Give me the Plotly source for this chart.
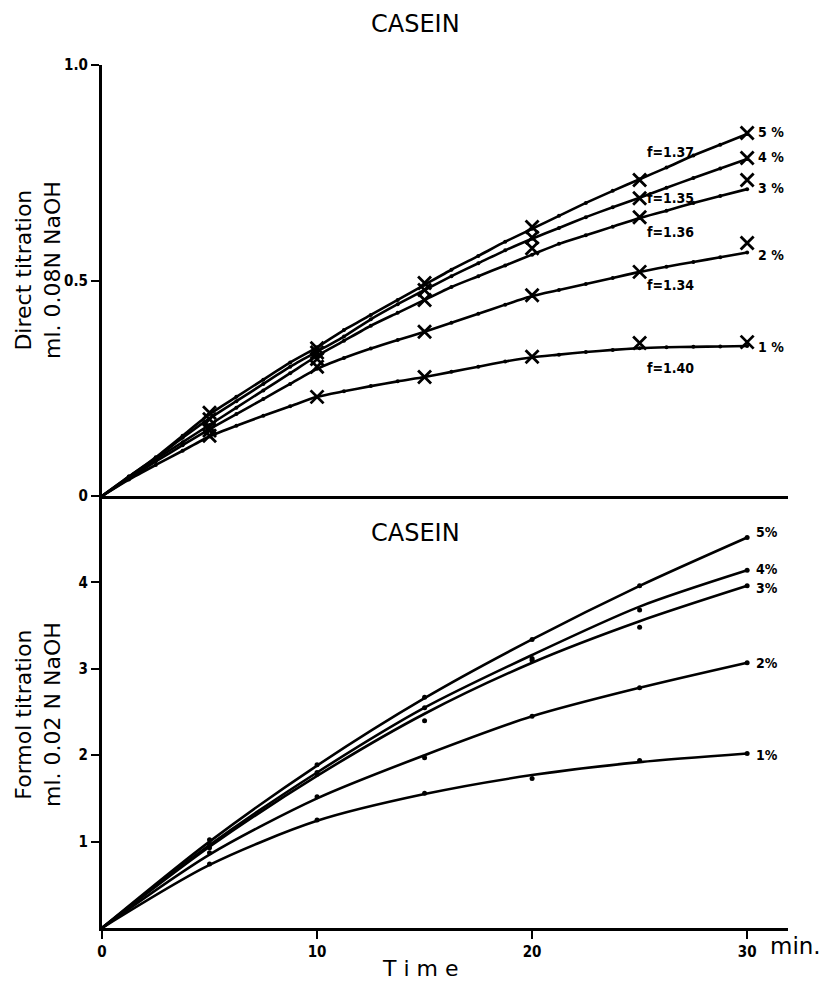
import plotly.graph_objects as go

# ---------------- data ----------------
series = ["5%", "4%", "3%", "2%", "1%"]

# Direct titration (top panel): smooth curve points read every 1.25 min
t_curve = [i * 1.25 for i in range(25)]
direct_curve = {
    "5%": [0, .045, .09, .14, .19, .23, .27, .31, .345, .385, .42, .455, .49, .525, .557, .59, .62, .65, .68, .708, .735, .762, .79, .815, .84],
    "4%": [0, .045, .088, .135, .18, .22, .26, .30, .335, .37, .41, .445, .478, .51, .54, .57, .597, .622, .647, .67, .692, .715, .738, .76, .782],
    "3%": [0, .043, .085, .125, .165, .205, .245, .285, .325, .36, .395, .425, .455, .485, .51, .535, .56, .585, .605, .625, .645, .662, .68, .696, .712],
    "2%": [0, .04, .08, .118, .155, .19, .225, .26, .295, .32, .342, .362, .381, .402, .423, .444, .464, .478, .492, .506, .52, .532, .543, .554, .565],
    "1%": [0, .038, .072, .105, .138, .163, .186, .208, .23, .243, .255, .266, .276, .288, .30, .312, .322, .328, .334, .339, .343, .345, .346, .347, .348],
}
# Direct titration measured points (X marks)
t_marks = [5, 10, 15, 20, 25, 30]
direct_marks = {
    "5%": [0.193, 0.343, 0.494, 0.624, 0.733, 0.842],
    "4%": [0.178, 0.333, 0.478, 0.600, 0.691, 0.784],
    "3%": [0.160, 0.318, 0.455, 0.575, 0.647, 0.733],
    "2%": [0.152, 0.300, 0.381, 0.466, 0.520, 0.587],
    "1%": [0.140, 0.230, 0.276, 0.323, 0.355, 0.357],
}
f_labels = {"5%": "f=1.37", "4%": "f=1.35", "3%": "f=1.36", "2%": "f=1.34", "1%": "f=1.40"}
f_label_y = {"5%": 0.798, "4%": 0.691, "3%": 0.612, "2%": 0.49, "1%": 0.297}
pct_label_y_top = {"5%": 0.845, "4%": 0.787, "3%": 0.715, "2%": 0.559, "1%": 0.346}

# Formol titration (bottom panel)
t_formol = [0, 5, 10, 15, 20, 25, 30]
formol_curve = {
    "5%": [0, 1.00, 1.88, 2.66, 3.34, 3.96, 4.52],
    "4%": [0, 0.96, 1.80, 2.55, 3.16, 3.72, 4.14],
    "3%": [0, 0.94, 1.76, 2.48, 3.07, 3.55, 3.96],
    "2%": [0, 0.85, 1.50, 2.00, 2.45, 2.78, 3.07],
    "1%": [0, 0.73, 1.24, 1.55, 1.77, 1.92, 2.02],
}
formol_points = {
    "5%": [0, 1.02, 1.89, 2.67, 3.34, 3.96, 4.52],
    "4%": [0, 0.97, 1.80, 2.55, 3.12, 3.68, 4.14],
    "3%": [0, 0.93, 1.78, 2.40, 3.10, 3.48, 3.96],
    "2%": [0, 0.87, 1.52, 1.97, 2.45, 2.78, 3.07],
    "1%": [0, 0.74, 1.25, 1.56, 1.73, 1.94, 2.02],
}
pct_label_y_bottom = {"5%": 4.58, "4%": 4.15, "3%": 3.94, "2%": 3.07, "1%": 2.0}

x_ticks = [0, 10, 20, 30]
top_y_ticks = [0, 0.5, 1.0]
top_y_labels = ["0", "0.5", "1.0"]
bottom_y_ticks = [1, 2, 3, 4]

# ---------------- figure ----------------
FONT = "DejaVu Sans Condensed, DejaVu Sans, sans-serif"
INK = "black"
fig = go.Figure()

for s in series:
    fig.add_trace(go.Scatter(
        x=t_curve, y=direct_curve[s], mode="lines+markers",
        line=dict(color=INK, width=2.6, shape="spline", smoothing=0.6),
        marker=dict(size=4, color=INK), xaxis="x", yaxis="y", showlegend=False))
    fig.add_trace(go.Scatter(
        x=t_marks, y=direct_marks[s], mode="markers",
        marker=dict(symbol="x-thin", size=13, line=dict(width=2.8, color=INK), color=INK),
        xaxis="x", yaxis="y", showlegend=False))
    fig.add_trace(go.Scatter(
        x=t_formol, y=formol_curve[s], mode="lines",
        line=dict(color=INK, width=2.6, shape="spline", smoothing=0.8),
        xaxis="x2", yaxis="y2", showlegend=False))
    fig.add_trace(go.Scatter(
        x=t_formol[1:], y=formol_points[s][1:], mode="markers",
        marker=dict(size=5, color=INK), xaxis="x2", yaxis="y2", showlegend=False))

split = (928 - 496) / (928 - 65)

axis_common = dict(showline=True, linecolor=INK, linewidth=3, showgrid=False, zeroline=False,
                   ticks="outside", tickcolor=INK, tickwidth=2, ticklen=8,
                   tickfont=dict(family=FONT, size=15, color=INK, weight="bold"))

# page body has an 8px margin: figure is 822x977 placed at (8, 8)
fig.update_layout(
    width=822, height=977, plot_bgcolor="white", paper_bgcolor="white",
    margin=dict(l=94, r=42, t=57, b=57),
    xaxis=dict(axis_common, range=[0, 31.9], domain=[0, 1], anchor="y",
               showticklabels=False, ticks="", tickvals=x_ticks),
    yaxis=dict(axis_common, range=[0, 1.0], domain=[split, 1], anchor="x",
               tickvals=top_y_ticks, ticktext=top_y_labels),
    xaxis2=dict(axis_common, range=[0, 31.9], domain=[0, 1], anchor="y2",
                tickvals=x_ticks, ticktext=[str(v) for v in x_ticks]),
    yaxis2=dict(axis_common, range=[0, 5.0], domain=[0, split], anchor="x2",
                tickvals=bottom_y_ticks),
)

ann = []
lab_font = dict(family=FONT, size=14, color=INK, weight="bold")
for s in series:
    ann.append(dict(x=25.25, y=f_label_y[s], xref="x", yref="y", text=f_labels[s],
                    showarrow=False, xanchor="left", yanchor="middle",
                    font=dict(family=FONT, size=14, color=INK, weight="bold")))
    ann.append(dict(x=30.4, y=pct_label_y_top[s], xref="x", yref="y", text=s.replace("%", " %"),
                    showarrow=False, xanchor="left", yanchor="middle", font=lab_font))
    ann.append(dict(x=30.3, y=pct_label_y_bottom[s], xref="x2", yref="y2", text=s,
                    showarrow=False, xanchor="left", yanchor="middle", font=lab_font))

title_font = dict(family="DejaVu Sans, sans-serif", size=24, color=INK)
ann.append(dict(x=(415 - 102) / 686, y=1 + (65 - 24) / 863, xref="paper", yref="paper",
                text="CASEIN", showarrow=False, xanchor="center", yanchor="middle", font=title_font))
ann.append(dict(x=(415 - 102) / 686, y=(928 - 533) / 863, xref="paper", yref="paper",
                text="CASEIN", showarrow=False, xanchor="center", yanchor="middle", font=title_font))

ylab_font = dict(family="DejaVu Sans, sans-serif", size=22, color=INK)
ann.append(dict(x=(38 - 102) / 686, y=(928 - 270) / 863, xref="paper", yref="paper",
                text="Direct titration<br>ml. 0.08N NaOH", textangle=-90, showarrow=False,
                xanchor="center", yanchor="middle", font=ylab_font))
ann.append(dict(x=(38 - 102) / 686, y=(928 - 715) / 863, xref="paper", yref="paper",
                text="Formol titration<br>ml. 0.02 N NaOH", textangle=-90, showarrow=False,
                xanchor="center", yanchor="middle", font=ylab_font))
ann.append(dict(x=(420 - 102) / 686, y=-(968 - 928) / 863, xref="paper", yref="paper",
                text="T i m e", showarrow=False, xanchor="center", yanchor="middle",
                font=dict(family="DejaVu Sans, sans-serif", size=22, color=INK)))
ann.append(dict(x=(768 - 102) / 686, y=-(946 - 928) / 863, xref="paper", yref="paper",
                text="min.", showarrow=False, xanchor="left", yanchor="middle",
                font=dict(family="DejaVu Sans, sans-serif", size=23, color=INK)))
fig.update_layout(annotations=ann)

fig.write_html("out.html")
